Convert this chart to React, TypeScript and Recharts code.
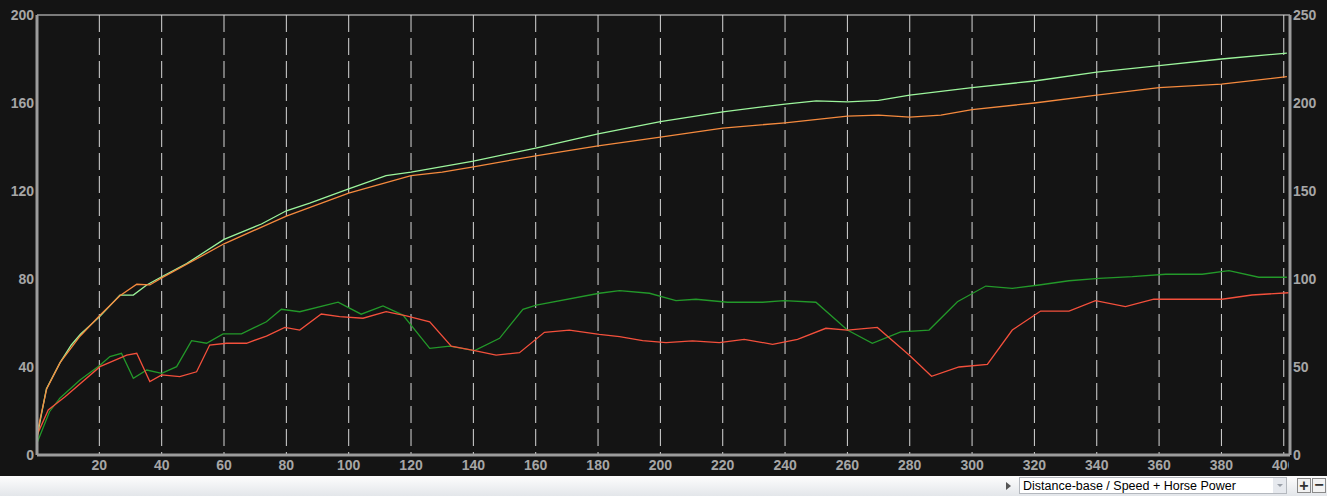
import { LineChart, Line, XAxis, YAxis, CartesianGrid } from "recharts";

// speed curves (left axis, 0-200)
const speedGreenDist = [0, 3, 7.4, 11, 14, 20.2, 26.6, 30.9, 35.2, 40, 48, 60, 72, 80, 87.5, 100, 112, 120, 140, 160, 180, 200, 220, 240, 250, 260, 270, 280, 300, 320, 340, 360, 380, 401];
const speedGreen = [8, 30, 42, 50, 55, 63, 72.7, 72.7, 77.3, 81, 87, 98, 105, 111, 114.5, 121, 127, 128.6, 133.6, 139.5, 146, 151.5, 156, 159.5, 161, 160.5, 161.2, 163.6, 167, 170, 174, 177, 180, 182.7];

const speedOrangeDist = [0, 0.5, 3.1, 7.4, 13.8, 20.2, 26.6, 32, 36.2, 40, 60, 80, 100, 120, 130, 140, 160, 180, 200, 220, 240, 260, 270, 280, 290, 300, 320, 340, 360, 380, 401];
const speedOrange = [6, 13, 30, 42, 54, 63.5, 72.4, 77.6, 77.3, 80.5, 96, 108.6, 119, 127, 128.6, 131, 136, 140.5, 144.5, 148.6, 151, 154, 154.5, 153.6, 154.5, 157, 160, 163.6, 167, 168.6, 172];

// horse power curves (right axis, 0-250)
const hpGreenDist = [0, 4, 7.4, 13.8, 20.2, 23.4, 27.1, 30.9, 35.2, 40, 44.8, 49.6, 54.4, 59.7, 65.6, 73.6, 78.4, 84.3, 96.6, 104, 111, 117.4, 126, 132.4, 140.4, 148.4, 155.9, 160.2, 180.4, 186.9, 196.5, 205, 211.4, 221.6, 232.8, 239.7, 249.9, 260, 268, 277.1, 286.2, 295.3, 304.4, 312.9, 321.5, 331.1, 340.7, 351.4, 362.1, 373.8, 382.4, 392, 401];
const hpGreen = [6.8, 24.6, 32.4, 42.6, 51, 55.9, 57.8, 43.6, 48.3, 46.4, 50.2, 65, 63.5, 68.8, 68.8, 75.7, 82.8, 81.4, 86.8, 80, 84.7, 79.5, 60.6, 61.9, 59.3, 66.3, 82.8, 85.2, 91.9, 93.4, 91.9, 87.7, 88.5, 86.8, 86.8, 87.7, 86.8, 71, 63.5, 70, 71, 87.1, 96, 94.7, 96.6, 99, 100.4, 101.3, 102.7, 102.7, 104.7, 101, 101];

const hpRedDist = [0, 3.6, 9, 20.2, 28.8, 32, 36.2, 40, 45.8, 51.2, 55.4, 60.8, 67.2, 73.6, 79.5, 84.3, 91.2, 97.1, 104.6, 112, 118.5, 126, 132.9, 140.4, 147.3, 154.8, 162.8, 170.8, 180.4, 186.9, 194.3, 201.8, 210.3, 218.9, 226.9, 236, 244, 253.1, 260, 269.6, 279.8, 287, 295.8, 304.9, 312.9, 322, 331.1, 339.6, 349.2, 358.3, 380.2, 389.8, 401.5];
const hpRed = [11.3, 25.6, 33.1, 50.2, 56.8, 57.8, 41.7, 45.5, 44.5, 47.3, 62.5, 63.5, 63.5, 67.6, 72.5, 71, 80.1, 78.6, 77.7, 81.4, 79, 75.7, 61.9, 59.3, 56.8, 58.1, 69.7, 71, 68.5, 67.2, 65, 63.8, 64.8, 63.8, 65.7, 62.9, 65.7, 72, 71, 72.5, 56.8, 44.7, 50, 51.5, 71, 81.8, 81.8, 87.7, 84.3, 88.5, 88.5, 90.9, 92.2];

const xTicks = [0, 20, 40, 60, 80, 100, 120, 140, 160, 180, 200, 220, 240, 260, 280, 300, 320, 340, 360, 380, 400];
const leftTicks = [0, 40, 80, 120, 160, 200];
const rightTicks = [0, 50, 100, 150, 200, 250];
const modeLabel = "Distance-base / Speed + Horse Power";

const pts = (d: number[], v: number[]) => d.map((x, i) => ({ x, y: v[i] }));

const tickStyle = { fill: "#a6a6a6", fontSize: 14, fontWeight: 700, fontFamily: "'Liberation Sans', Arial, sans-serif" };
const axisLine = { stroke: "#9c9c9c", strokeWidth: 3 };

// x tick labels are cut off where the right axis begins
function XTick(props: any) {
  const { x, y, payload } = props;
  if (payload.value === 0) return null;
  return (
    <g>
      <defs>
        <clipPath id="xtick-clip">
          <rect x={0} y={0} width={1289} height={496} />
        </clipPath>
      </defs>
      <text x={x} y={y} dy="0.71em" textAnchor="middle" clipPath="url(#xtick-clip)" {...tickStyle}>
        {payload.value}
      </text>
    </g>
  );
}

export default function App() {
  return (
    <div style={{ position: "absolute", left: 0, top: 0, width: 1327, height: 496, background: "#141414" }}>
      <LineChart width={1327} height={476} margin={{ top: 15, right: 0, bottom: 0, left: 0 }}>
        <CartesianGrid vertical={false} stroke="#e2e2e2" strokeWidth={1} />
        <CartesianGrid horizontal={false} stroke="#d8d8d8" strokeDasharray="17 6" />
        <XAxis
          type="number"
          dataKey="x"
          domain={[0, 402]}
          ticks={xTicks}
          allowDuplicatedCategory={false}
          height={21}
          tickLine={false}
          tickSize={0}
          tickMargin={5}
          axisLine={axisLine}
          tick={<XTick />}
        />
        <YAxis
          yAxisId="left"
          domain={[0, 200]}
          ticks={leftTicks}
          width={37}
          tickLine={false}
          tickSize={0}
          tickMargin={3}
          axisLine={axisLine}
          tick={tickStyle}
        />
        <YAxis
          yAxisId="right"
          orientation="right"
          domain={[0, 250]}
          ticks={rightTicks}
          width={37}
          tickLine={false}
          tickSize={0}
          tickMargin={3}
          axisLine={axisLine}
          tick={tickStyle}
        />
        <Line yAxisId="right" data={pts(hpGreenDist, hpGreen)} dataKey="y" stroke="#23992a" strokeWidth={1.3} dot={false} isAnimationActive={false} />
        <Line yAxisId="right" data={pts(hpRedDist, hpRed)} dataKey="y" stroke="#f4503c" strokeWidth={1.3} dot={false} isAnimationActive={false} />
        <Line yAxisId="left" data={pts(speedGreenDist, speedGreen)} dataKey="y" stroke="#9cf59c" strokeWidth={1.3} dot={false} isAnimationActive={false} />
        <Line yAxisId="left" data={pts(speedOrangeDist, speedOrange)} dataKey="y" stroke="#f58a3e" strokeWidth={1.3} dot={false} isAnimationActive={false} />
      </LineChart>
      <div
        style={{
          position: "absolute",
          left: 0,
          top: 476,
          width: 1327,
          height: 20,
          background: "linear-gradient(#fdfdfd, #e3e6ea)",
          fontFamily: "'Liberation Sans', Arial, sans-serif",
        }}
      >
        <div style={{ position: "absolute", left: 1006, top: 6, width: 0, height: 0, borderTop: "4px solid transparent", borderBottom: "4px solid transparent", borderLeft: "5px solid #555" }} />
        <div
          style={{
            position: "absolute",
            left: 1019,
            top: 1,
            width: 268,
            height: 17,
            background: "#fff",
            border: "1px solid #b4b8be",
            fontSize: 12.5,
            lineHeight: "16px",
            paddingLeft: 3,
            boxSizing: "border-box",
            color: "#000",
          }}
        >
          {modeLabel}
          <div style={{ position: "absolute", right: 0, top: 0, width: 13, height: 15, background: "#e6e9ee" }}>
            <div style={{ position: "absolute", left: 4, top: 6, width: 0, height: 0, borderLeft: "3px solid transparent", borderRight: "3px solid transparent", borderTop: "3px solid #9aa0a8" }} />
          </div>
        </div>
        <div style={{ position: "absolute", left: 1297, top: 2, width: 14, height: 15, border: "1px solid #8a8a8a", background: "#f2f2f2", boxSizing: "border-box", fontSize: 16, fontWeight: 700, lineHeight: "13px", textAlign: "center", color: "#333" }}>+</div>
        <div style={{ position: "absolute", left: 1312, top: 2, width: 14, height: 15, border: "1px solid #8a8a8a", background: "#f2f2f2", boxSizing: "border-box", fontSize: 16, fontWeight: 700, lineHeight: "12px", textAlign: "center", color: "#333" }}>−</div>
      </div>
    </div>
  );
}
